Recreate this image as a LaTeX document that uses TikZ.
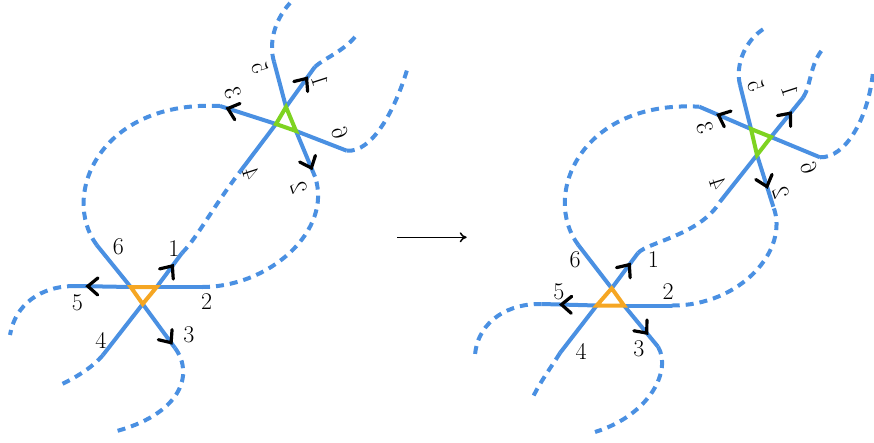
\documentclass[tikz,border=0pt]{standalone}
\usetikzlibrary{decorations.markings,arrows.meta}
\definecolor{lblue}{HTML}{4A90E2}
\definecolor{lorange}{HTML}{F5A623}
\definecolor{lgreen}{HTML}{7ED321}
\begin{document}
\begin{tikzpicture}[x=1pt,y=-1pt,
 leg/.style={draw=lblue,line width=4pt},
 dsh/.style={draw=lblue,line width=4pt,dash pattern=on 8pt off 6pt},
 tri/.style={line width=4pt,line join=miter},
 chev/.style={draw=black,line width=3.2pt,line join=miter,line cap=round},
 arr/.style={postaction={decorate,decoration={markings,mark=at position #1 with {\draw[chev] (-10pt,8.5pt) -- (0pt,0pt) -- (-10pt,-8.5pt);}}}},
 lab/.style={inner sep=0pt,font=\fontsize{24}{28}\selectfont},
 rlab/.style={lab,rotate=108,yscale=-1}]
\useasboundingbox (0,0) rectangle (874,442);

% ---------- left diagram, bottom vertex A ----------
\coordinate (a56) at (130.7,287);
\coordinate (a12) at (156.7,287);
\coordinate (a34) at (142.7,304);
\coordinate (A1) at (182,253);
\coordinate (A2) at (202,287);
\coordinate (A3) at (175,348);
\coordinate (A4) at (103,355);
\coordinate (A5) at (75,286);
\coordinate (A6) at (96.7,245);
% ---------- left diagram, top vertex B ----------
\coordinate (b15) at (286,107);
\coordinate (b34) at (276,124);
\coordinate (b26) at (296,131);
\coordinate (B1) at (315,66.7);
\coordinate (B2) at (315,176.7);
\coordinate (B3) at (220,106);
\coordinate (B4) at (240,171.7);
\coordinate (B5) at (274,61.7);
\coordinate (B6) at (346.7,150.7);
% ---------- right diagram, bottom vertex C ----------
\coordinate (c16) at (611.7,288.3);
\coordinate (c45) at (596.7,305.5);
\coordinate (c23) at (624,305.5);
\coordinate (C1) at (638,253);
\coordinate (C2) at (671.7,305.5);
\coordinate (C3) at (658,346.7);
\coordinate (C4) at (560,353);
\coordinate (C5) at (541.7,304);
\coordinate (C6) at (578.3,245);
% ---------- right diagram, top vertex D ----------
\coordinate (d35) at (751,129);
\coordinate (d16) at (771,137);
\coordinate (d24) at (757,155);
\coordinate (D1) at (803.3,97.3);
\coordinate (D2) at (773.3,206.7);
\coordinate (D3) at (699.3,106.7);
\coordinate (D4) at (720,201.7);
\coordinate (D5) at (740,85);
\coordinate (D6) at (820,157.3);
% free ends
\coordinate (fA3) at (113,432);
\coordinate (fA4) at (58,386);
\coordinate (fA5) at (10,335);
\coordinate (fB5) at (290,3);
\coordinate (fB1) at (355,37);
\coordinate (fB6) at (407,70);
\coordinate (fC3) at (595,432);
\coordinate (fC4) at (533,397);
\coordinate (fC5) at (475,355);
\coordinate (fD5) at (765,28);
\coordinate (fD1) at (822,50);
\coordinate (fD6) at (873,72);

% ---------- dashed strands ----------
\draw[dsh] (A2) .. controls (270,287) and (333,230) .. (B2);
\draw[dsh] (A1) .. controls (197,238) and (213,207) .. (B4);
\draw[dsh] (A6) .. controls (60,195) and (100,100) .. (B3);
\draw[dsh] (A3) .. controls (195,375) and (180,415) .. (fA3);
\draw[dsh] (A4) .. controls (92,368) and (75,378) .. (fA4);
\draw[dsh] (A5) .. controls (40,286) and (15,305) .. (fA5);
\draw[dsh] (B5) .. controls (269,45) and (273,22) .. (fB5);
\draw[dsh] (B1) .. controls (325,58) and (342,52) .. (fB1);
\draw[dsh] (B6) .. controls (372,153) and (395,110) .. (fB6);

\draw[dsh] (C2) .. controls (740,306) and (790,250) .. (D2);
\draw[dsh] (C1) .. controls (648,242) and (700,235) .. (D4);
\draw[dsh] (C6) .. controls (541,195) and (581,100) .. (D3);
\draw[dsh] (C3) .. controls (672,370) and (650,415) .. (fC3);
\draw[dsh] (C4) .. controls (552,366) and (540,382) .. (fC4);
\draw[dsh] (C5) .. controls (510,303) and (478,320) .. (fC5);
\draw[dsh] (D5) .. controls (735,65) and (745,40) .. (fD5);
\draw[dsh] (D1) .. controls (811,85) and (810,65) .. (fD1);
\draw[dsh] (D6) .. controls (845,158) and (868,120) .. (fD6);

% ---------- legs ----------
\draw[leg,arr=0.62] (a12) -- (A1);
\draw[leg] (a12) -- (A2);
\draw[leg,arr=0.88] (a34) -- (A3);
\draw[leg] (a34) -- (A4);
\draw[leg,arr=0.77] (a56) -- (A5);
\draw[leg] (a56) -- (A6);

\draw[leg,arr=0.71] (b15) -- (B1);
\draw[leg,arr=0.81] (b26) -- (B2);
\draw[leg,arr=0.86] (b34) -- (B3);
\draw[leg] (b34) -- (B4);
\draw[leg] (b15) -- (B5);
\draw[leg] (b26) -- (B6);

\draw[leg,arr=0.67] (c16) -- (C1);
\draw[leg] (c23) -- (C2);
\draw[leg,arr=0.67] (c23) -- (C3);
\draw[leg] (c45) -- (C4);
\draw[leg,arr=0.64] (c45) -- (C5);
\draw[leg] (c16) -- (C6);

\draw[leg,arr=0.6] (d16) -- (D1);
\draw[leg,arr=0.61] (d24) -- (D2);
\draw[leg,arr=0.63] (d35) -- (D3);
\draw[leg] (d24) -- (D4);
\draw[leg] (d35) -- (D5);
\draw[leg] (d16) -- (D6);

% ---------- triangles ----------
\draw[tri,lorange] (a56) -- (a12) -- (a34) -- cycle;
\draw[tri,lgreen] (b15) -- (b34) -- (b26) -- cycle;
\draw[tri,lorange] (c16) -- (c45) -- (c23) -- cycle;
\draw[tri,lgreen] (d35) -- (d16) -- (d24) -- cycle;

% ---------- labels ----------
\node[lab] (tA1) at (174,248.3) {1};
\node[lab] (tA2) at (206.7,301.3) {2};
\node[lab] (tA3) at (189,334.7) {3};
\node[lab] (tA4) at (100.8,340) {4};
\node[lab] (tA5) at (77.5,302.8) {5};
\node[lab] (tA6) at (118.3,246.7) {6};

\node[rlab] (tB1) at (320,80.8) {1};
\node[rlab] (tB2) at (299,188) {2};
\node[rlab] (tB3) at (233,93) {3};
\node[rlab] (tB4) at (251,174) {4};
\node[rlab] (tB5) at (260,67.5) {5};
\node[rlab] (tB6) at (340,132.5) {6};

\node[lab] (tC1) at (653.3,260) {1};
\node[lab] (tC2) at (668,291.7) {2};
\node[lab] (tC3) at (638.8,348.3) {3};
\node[lab] (tC4) at (581,351.3) {4};
\node[lab] (tC5) at (558.8,291.7) {5};
\node[lab] (tC6) at (575,260) {6};

\node[rlab] (tD1) at (790,90.8) {1};
\node[rlab] (tD2) at (781.7,192.5) {2};
\node[rlab] (tD3) at (705,128.3) {3};
\node[rlab] (tD4) at (718.3,183.3) {4};
\node[rlab] (tD5) at (756,85.8) {5};
\node[rlab] (tD6) at (809,167.5) {6};

% ---------- middle arrow ----------
\coordinate (m1) at (397,237.3);
\coordinate (m2) at (466.7,237.3);
\draw[line width=1.5pt,-{To[length=7pt,width=10pt]}] (m1) -- (m2);
\end{tikzpicture}
\end{document}
